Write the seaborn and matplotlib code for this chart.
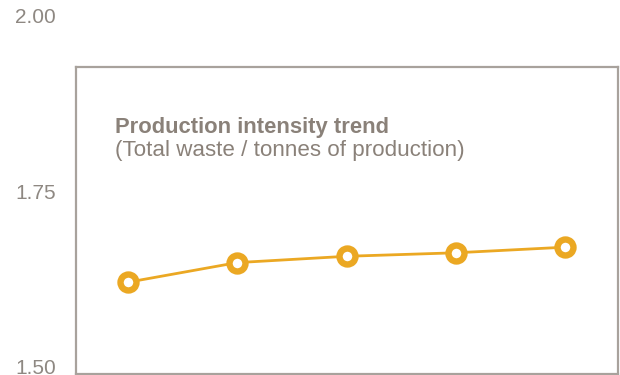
import matplotlib
matplotlib.use("Agg")
import matplotlib.pyplot as plt
import seaborn as sns
import pandas as pd

# Data
points = [1, 2, 3, 4, 5]
values = [1.620, 1.648, 1.657, 1.662, 1.670]
ytick_values = [1.50, 1.75, 2.00]
ytick_labels = ["1.50", "1.75", "2.00"]
title = "Production intensity trend"
subtitle = "(Total waste / tonnes of production)"

ORANGE = "#EBA823"
TEXT = "#8A8179"
TICK = "#8E8882"
FRAME = "#A8A29C"

sns.set_theme(style="white")
plt.rcParams["font.family"] = ["Liberation Sans", "DejaVu Sans"]

df = pd.DataFrame({"point": points, "value": values})

fig = plt.figure(figsize=(6.2, 3.75), dpi=100)

# decorative frame
W, H = 620, 375
frame = fig.add_axes([76 / W, (H - 374) / H, 542 / W, (374 - 67) / H])
frame.set_xticks([])
frame.set_yticks([])
for s in frame.spines.values():
    s.set_color(FRAME)
    s.set_linewidth(1.6)
frame.set_zorder(0)

ax = fig.add_axes([76 / W, 0, 542 / W, 1])
ax.set_zorder(1)
ax.patch.set_alpha(0)
sns.lineplot(data=df, x="point", y="value", ax=ax, color=ORANGE, linewidth=2.0,
             marker="o", markersize=11.5, markeredgewidth=4.6,
             markerfacecolor="white", markeredgecolor=ORANGE)

ax.set_xlim(1 - 0.4726, 1 + 4.4815)
ax.set_ylim(1.4879, 2.0221)
ax.set_yticks(ytick_values)
ax.set_yticklabels(ytick_labels)
ax.set_xticks([])
ax.tick_params(axis="y", length=0, pad=14.4, labelsize=15, labelcolor=TICK)
ax.set_xlabel("")
ax.set_ylabel("")
for s in ax.spines.values():
    s.set_visible(False)

fig.text(115 / W, 1 - 133.3 / H, title, fontsize=15.85, fontweight="bold",
         color=TEXT, va="baseline", ha="left")
fig.text(115 / W, 1 - 156 / H, subtitle, fontsize=16.1, color=TEXT,
         va="baseline", ha="left")

fig.savefig("out.png", dpi=100)
